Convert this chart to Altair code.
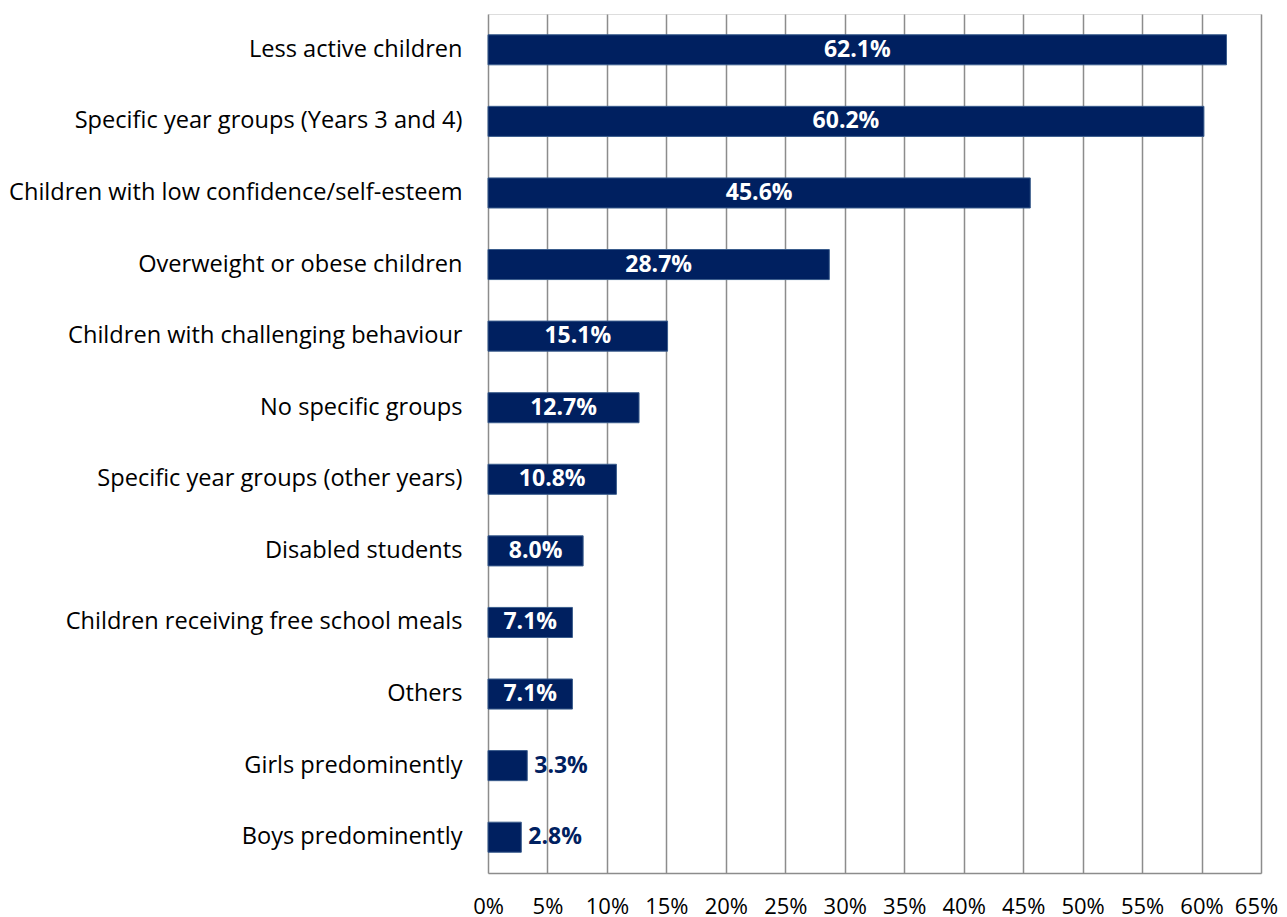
import altair as alt
import pandas as pd

categories = [
    "Less active children\u00a0",
    "Specific year groups (Years 3 and 4)",
    "Children with low confidence/self-esteem",
    "Overweight or obese children",
    "Children with challenging behaviour",
    "No specific groups",
    "Specific year groups (other years)",
    "Disabled students",
    "Children receiving free school meals",
    "Others",
    "Girls predominently",
    "Boys predominently",
]
values = [62.1, 60.2, 45.6, 28.7, 15.1, 12.7, 10.8, 8.0, 7.1, 7.1, 3.3, 2.8]
inside = [True] * 10 + [False, False]
tick_values = list(range(0, 70, 5))

df = pd.DataFrame({
    "category": categories,
    "value": values,
    "label": [f"{v:.1f}%" for v in values],
    "inside": inside,
})

FONT = "Open Sans"
NAVY = "#002060"

y_enc = alt.Y(
    "category:N",
    sort=categories,
    title=None,
    scale=alt.Scale(paddingInner=0.58, paddingOuter=0.29),
    axis=alt.Axis(
        ticks=False, domain=False, labelPadding=26, labelFontSize=23.6,
        labelFont=FONT, labelColor="#000000", labelLimit=0,
    ),
)
x_scale = alt.Scale(domain=[0, 65], nice=False, zero=True)

bars = alt.Chart(df).mark_bar(
    color=NAVY, stroke="#3a5c8c", strokeWidth=1
).encode(
    y=y_enc,
    x=alt.X(
        "value:Q",
        scale=x_scale,
        title=None,
        axis=alt.Axis(
            values=tick_values,
            labelExpr="datum.value + '%'",
            ticks=False,
            domain=True,
            domainColor="#8c8c8c",
            domainWidth=1.5,
            grid=True,
            gridColor="#8c8c8c",
            gridWidth=1.5,
            labelPadding=23,
            labelFontSize=22,
            labelFont=FONT,
            labelColor="#000000",
            labelFlush=False,
            labelOffset={"condition": {"test": "datum.value == 65", "value": -5}, "value": 0},
        ),
    ),
)

text_in = alt.Chart(df).transform_filter("datum.inside").transform_calculate(
    mid="datum.value / 2"
).mark_text(
    color="white", fontWeight="bold", fontSize=23, font=FONT, align="center", baseline="middle"
).encode(
    y=alt.Y("category:N", sort=categories),
    x=alt.X("mid:Q", scale=x_scale),
    text="label:N",
)

text_out = alt.Chart(df).transform_filter("!datum.inside").mark_text(
    color=NAVY, fontWeight="bold", fontSize=23, font=FONT, align="left", baseline="middle", dx=7
).encode(
    y=alt.Y("category:N", sort=categories),
    x=alt.X("value:Q", scale=x_scale),
    text="label:N",
)

chart = alt.layer(bars, text_in, text_out).properties(
    width=773,
    height=859,
    padding={"left": 480, "top": 6, "right": 18, "bottom": 50},
    autosize=alt.AutoSizeParams(type="none"),
).configure_view(stroke=None).configure(background="white")

chart.save("out.html", embed_options={"renderer": "svg", "actions": False})
